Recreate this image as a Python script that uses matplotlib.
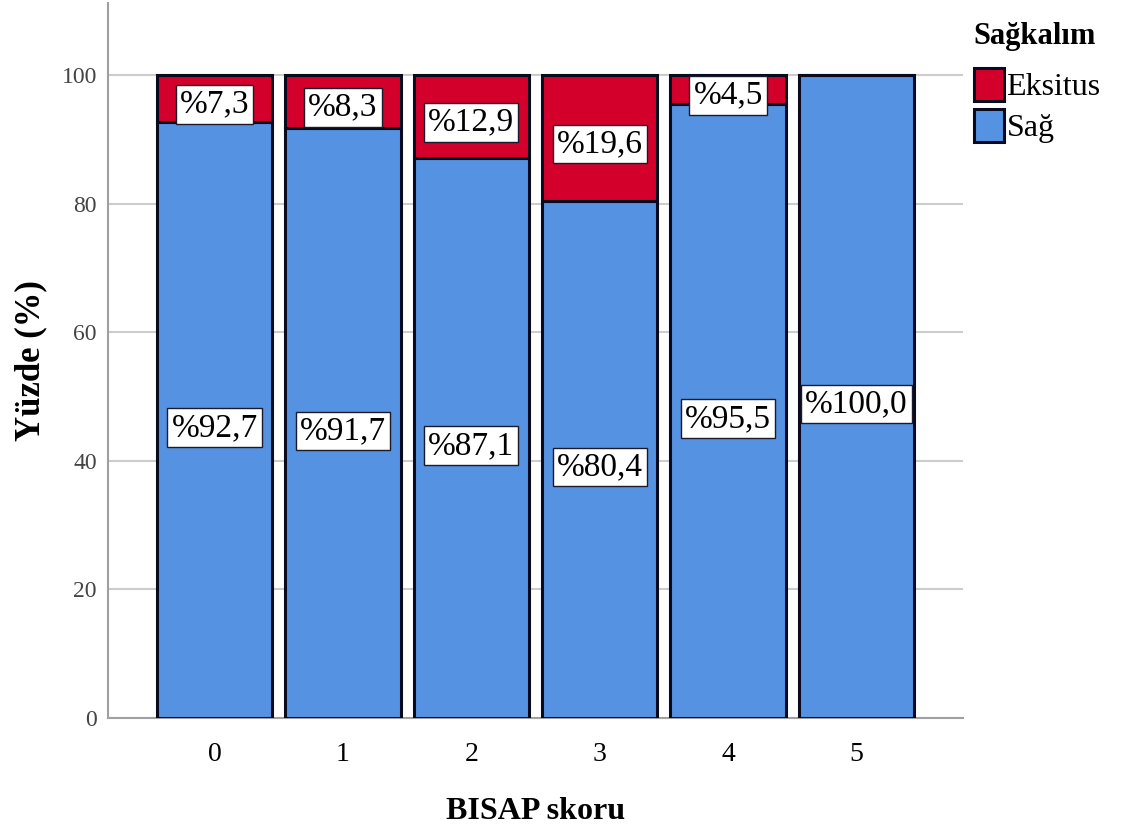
import matplotlib.pyplot as plt
import numpy as np

plt.rcParams['font.family'] = ['Liberation Serif', 'DejaVu Serif']

# BISAP skoru gruplarına göre sağkalım yüzdeleri
skor = ["0", "1", "2", "3", "4", "5"]
sag = [92.7, 91.7, 87.1, 80.4, 95.5, 100.0]
eksitus = [7.3, 8.3, 12.9, 19.6, 4.5, 0.0]

mavi = "#5592E2"
kirmizi = "#D4002C"

fig = plt.figure(figsize=(11.27, 8.32), dpi=100)
ax = fig.add_axes([0.0958, 0.137, 0.7587, 0.8594])

x = np.arange(len(skor))
b1 = ax.bar(x, sag, width=0.9, color=mavi, edgecolor="#0a0a1e", linewidth=2.2, label="Sağ", zorder=3)
b2 = ax.bar(x, eksitus, width=0.9, bottom=sag, color=kirmizi, edgecolor="#0a0a1e", linewidth=2.2,
            label="Eksitus", zorder=3)

kutu = dict(boxstyle="square,pad=0.12", facecolor="white", edgecolor="#1a1a2a", linewidth=1.0)
for i in range(len(skor)):
    ax.text(x[i], sag[i] / 2 - 1.2, "%" + f"{sag[i]:.1f}".replace(".", ","), ha="center", va="center",
            fontsize=24, bbox=kutu, zorder=5)
    if eksitus[i] > 0:
        ax.text(x[i], sag[i] + eksitus[i] / 2 - 0.9, "%" + f"{eksitus[i]:.1f}".replace(".", ","),
                ha="center", va="center", fontsize=24, bbox=kutu, zorder=5)

ax.set_xlim(-0.83, 5.83)
ax.set_ylim(0, 111.2)
ax.set_yticks([0, 20, 40, 60, 80, 100])
ax.set_xticks(x)
ax.set_xticklabels(skor)
ax.tick_params(axis="both", length=0)
ax.tick_params(axis="x", labelsize=20, pad=17)
ax.tick_params(axis="y", labelsize=17, labelcolor="#444444", pad=8)
ax.yaxis.grid(True, color="#cccccc", linewidth=1.5, zorder=0)
ax.set_axisbelow(True)

for s in ["top", "right"]:
    ax.spines[s].set_visible(False)
for s in ["left", "bottom"]:
    ax.spines[s].set_color("#a0a0a0")
    ax.spines[s].set_linewidth(1.5)

ax.set_xlabel("BISAP skoru", fontsize=23, fontweight="bold", labelpad=22)
ax.set_ylabel("Yüzde (%)", fontsize=25, fontweight="bold", labelpad=10)

leg = ax.legend(handles=[b2, b1], title="Sağkalım", loc="upper left", bbox_to_anchor=(0.99, 1.0),
                frameon=False, fontsize=23, title_fontproperties={"weight": "bold", "size": 22},
                handlelength=0.95, handleheight=1.2, handletextpad=0.08, labelspacing=0.22,
                borderaxespad=0.2, alignment="left")
leg._legend_box.sep = 12

fig.savefig("out.png", dpi=100)
